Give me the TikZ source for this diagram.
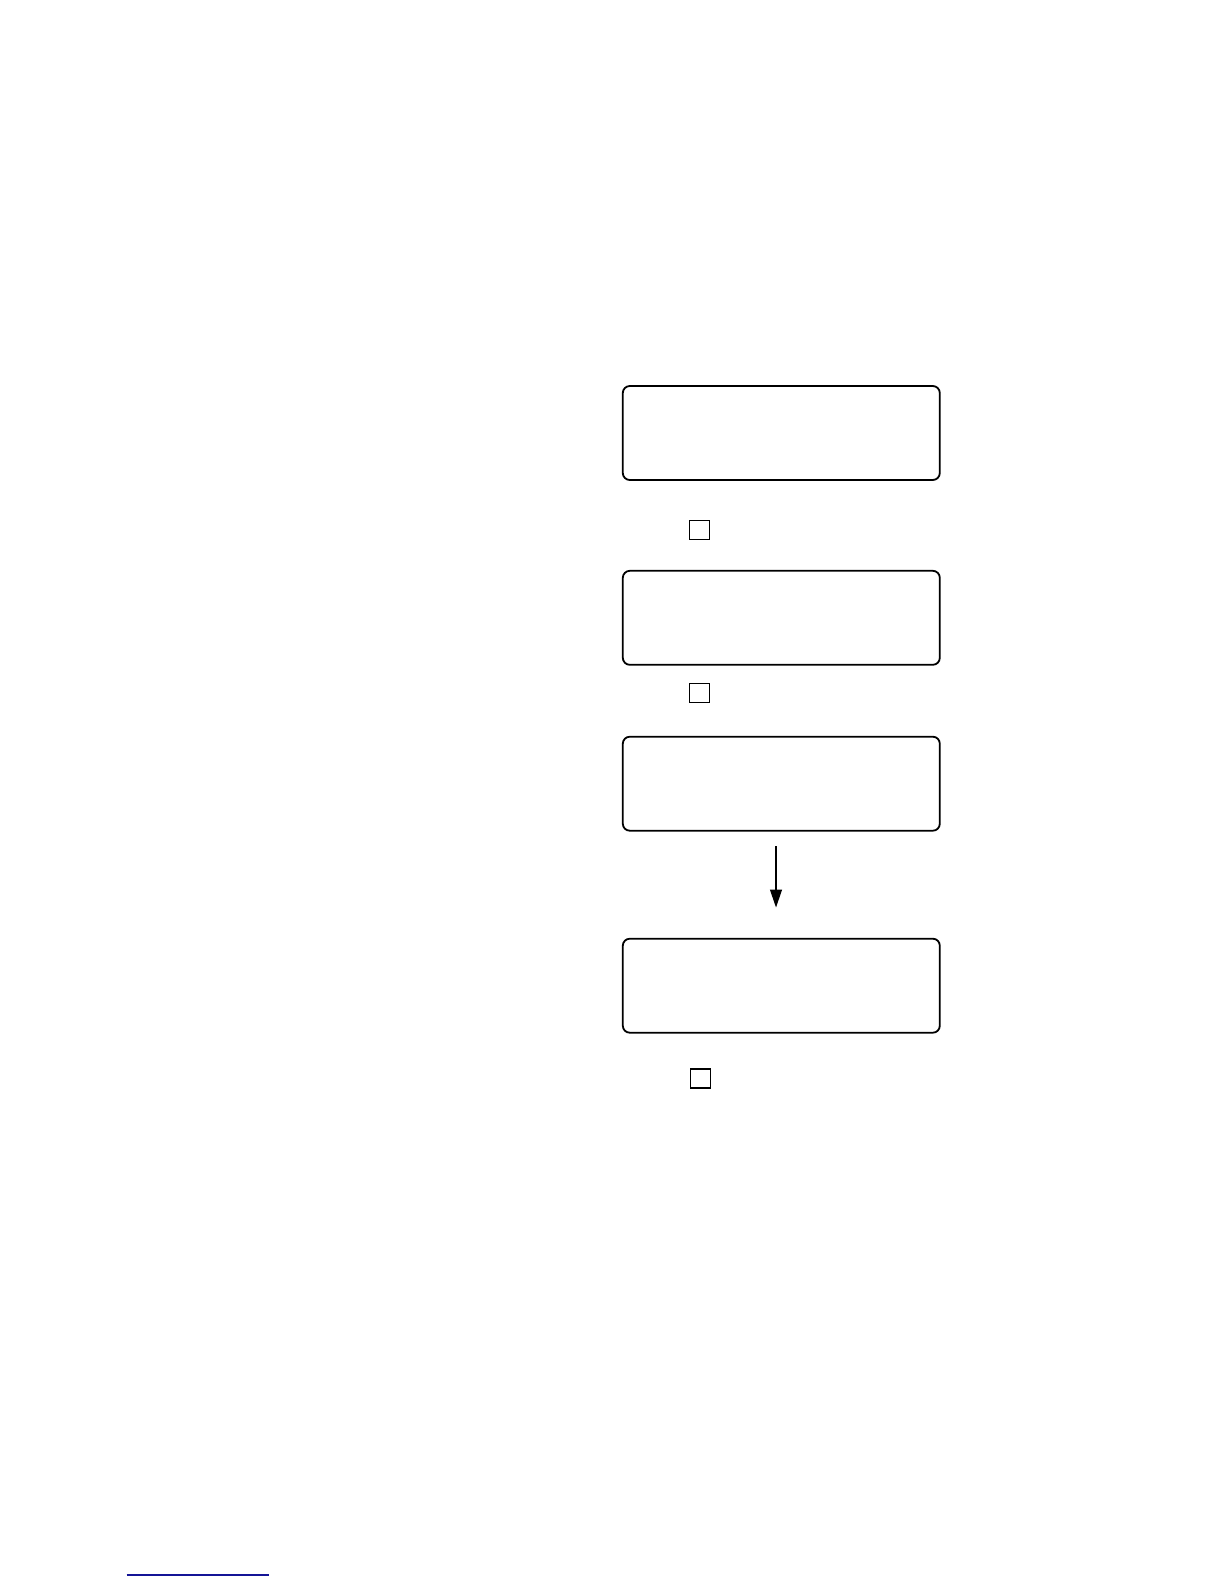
\documentclass[tikz,border=0pt]{standalone}
\usetikzlibrary{arrows.meta}
\definecolor{linkblue}{RGB}{20,20,150}
\begin{document}
\begin{tikzpicture}[x=1pt,y=-1pt,
  panel/.style={draw=black,line width=1.8pt,rounded corners=7pt,minimum width=317pt,minimum height=94pt,inner sep=0pt},
  keybox/.style={draw=black,line width=1.3pt,minimum width=20pt,minimum height=19pt,inner sep=0pt},
  flow/.style={line width=1.2pt,-{Triangle[width=12pt,length=18pt]}}]
\useasboundingbox[fill=white] (0,0) rectangle (1224,1584);
\node[panel] (p1) at (781.3,433) {};
\node[keybox] (k1) at (699.5,530.3) {};
\node[panel] (p2) at (781.3,617.8) {};
\node[keybox] (k2) at (699.8,693) {};
\node[panel] (p3) at (781.3,783.7) {};
\coordinate (a1) at (776,846);
\coordinate (a2) at (776,907.5);
\draw[flow] (a1) -- (a2);
\node[panel] (p4) at (781.3,985.7) {};
\node[keybox] (k3) at (700.5,1078.5) {};
\coordinate (l1) at (126.7,1575);
\coordinate (l2) at (269,1575);
\draw[linkblue,line width=1.2pt] (l1) -- (l2);
\end{tikzpicture}
\end{document}
